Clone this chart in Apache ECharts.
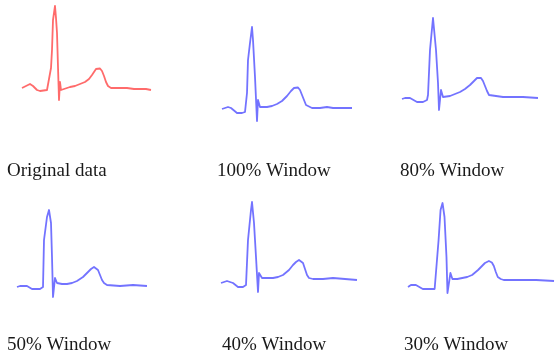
<!DOCTYPE html>
<html>
<head>
<meta charset="utf-8">
<script src="https://cdn.jsdelivr.net/npm/echarts@6/dist/echarts.min.js"></script>
<style>html,body{margin:0;padding:0;background:#fff;}#c{width:556px;height:358px;}</style>
</head>
<body>
<div id="c"></div>
<script>
// Panel titles
const labels = ['Original data', '100% Window', '80% Window', '50% Window', '40% Window', '30% Window'];

// Each waveform: [time (samples), amplitude (a.u., baseline = 0)]
const originalData = [[0,0],[4,2],[8,4],[11,2],[15,-2],[18,-3],[25,-2],[27,0],[29,20],[30,38],[31,68],[33,82],[34,70],[35,55],[36,21],[37,-12],[38,6],[39,-2],[41,0],[48,1],[53,2],[58,4],[63,6],[67,9],[70,13],[72,16],[74,19],[76,20],[78,19.5],[80,17],[82,12],[84,6],[86,2],[89,0],[91,-1],[98,0],[105,0],[112,-1],[118,-1],[124,-1],[129,-2]];
const window100 = [[0,0],[3,1],[6,2],[9,1],[11,0],[15,-4],[20,-4],[23,-3],[25,16],[26,49],[28,66],[30,82],[31,69],[33,32],[35,-12],[36,9],[38,2],[45,2],[50,3],[55,5],[60,8],[65,13],[69,18],[72,21],[74,22],[76,21.5],[78,19],[80,14],[82,9],[84,4],[86,2],[90,1],[98,1],[105,2],[111,1],[120,1],[130,1]];
const window80 = [[0,0],[3,1],[5,2],[8,1],[10,0],[15,-3],[21,-3],[25,-1],[26,4],[28,49],[31,81],[32,82],[34,49],[36,16],[37,-11],[39,9],[41,2],[48,3],[53,5],[58,7],[63,10],[68,14],[72,18],[75,21],[77,22],[79,21],[81,18],[83,13],[85,8],[87,4],[89,3],[101,2],[111,2],[121,2],[136,1]];
const window50 = [[0,0],[3,1],[5,2],[10,1],[15,-2],[23,-2],[26,0],[27,47],[30,70],[32,77],[34,64],[35,30],[36,-10],[38,9],[40,4],[45,3],[50,3],[55,4],[60,6],[66,10],[71,15],[74,18],[77,20],[79,19.5],[81,17],[83,12],[85,7],[87,4],[90,2],[103,1],[116,2],[130,1]];
const window40 = [[0,0],[3,1],[6,2],[9,1],[12,0],[17,-4],[22,-4],[25,-2],[27,43],[30,73],[31,81],[33,60],[35,26],[37,-9],[38,10],[41,5],[47,5],[52,5],[57,6],[62,8],[68,13],[72,18],[75,21],[78,23],[80,22.5],[82,20],[84,14],[86,8],[88,5],[92,4],[102,4],[112,5],[124,4],[136,3]];
const window30 = [[0,0],[3,2],[5,3],[8,2],[10,0],[15,-2],[27,-2],[29,0],[31,47],[33,77],[35,84],[37,70],[39,30],[40,-6],[43,14],[45,8],[50,8],[55,9],[60,10],[65,12],[71,17],[75,21],[78,24],[82,26],[85,24.5],[87,21],[89,15],[91,10],[94,8],[97,7],[106,7],[115,7],[130,7],[148,6]];

const seriesData = [originalData, window100, window80, window50, window40, window30];
const colors = ['rgba(255,70,70,0.8)', 'rgba(80,80,255,0.8)', 'rgba(80,80,255,0.8)', 'rgba(80,80,255,0.8)', 'rgba(80,80,255,0.8)', 'rgba(80,80,255,0.8)'];

// layout (pixels): waveform origin and baseline, label positions
const origins = [[22,88],[222,109],[402,99],[17,287],[221,283],[408,287]];
const labelPos = [[7,173],[217,173],[400,173],[7,347],[222,347],[404,347]];

const chart = echarts.init(document.getElementById('c'), null, {renderer:'canvas'});
const grid = [], xAxis = [], yAxis = [], series = [], graphic = [];
origins.forEach((o, i) => {
  grid.push({left: o[0], top: o[1] - 85, width: 150, height: 100, containLabel: false});
  xAxis.push({type: 'value', gridIndex: i, min: 0, max: 150, show: false});
  yAxis.push({type: 'value', gridIndex: i, min: -15, max: 85, show: false});
  series.push({
    type: 'line', xAxisIndex: i, yAxisIndex: i, data: seriesData[i],
    showSymbol: false, symbol: 'none', smooth: false,
    lineStyle: {color: colors[i], width: 1.8, join: 'round'}
  });
  graphic.push({
    type: 'text', left: labelPos[i][0], top: labelPos[i][1] - 11,
    style: {text: labels[i], fontFamily: '"Liberation Serif", "Times New Roman", serif', fontSize: 19, fill: '#1a1a1a'}
  });
});
chart.setOption({animation: false, backgroundColor: '#fff', grid, xAxis, yAxis, series, graphic});
</script>
</body>
</html>
